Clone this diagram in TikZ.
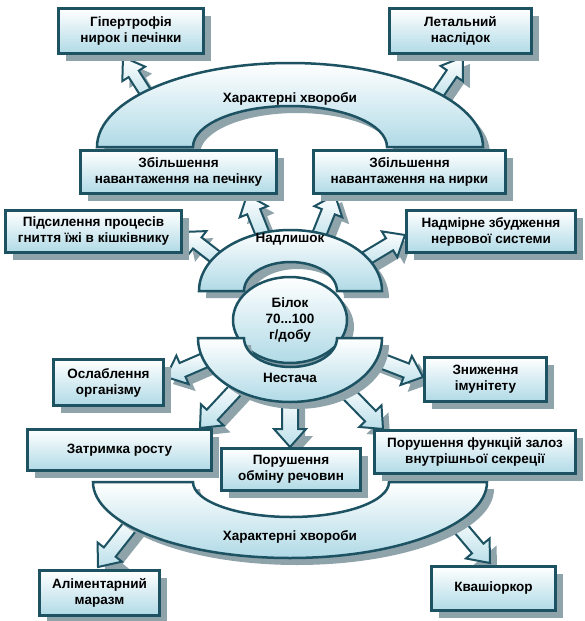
\documentclass[tikz,border=0pt]{standalone}
\usepackage{fontspec}
\setmainfont{Liberation Sans}
\usetikzlibrary{calc,shadows,shapes.geometric}
\definecolor{border}{RGB}{28,82,98}
\definecolor{fillb}{RGB}{176,218,230}
\definecolor{shadowc}{RGB}{143,163,171}
\tikzset{
 shad/.style={drop shadow={shadow xshift=7pt, shadow yshift=-7pt, fill=shadowc, opacity=1}},
 txt/.style={font=\bfseries\fontsize{13.5}{16}\selectfont, align=center},
 box/.style={draw=border, line width=3pt, top color=white, bottom color=fillb, shad, inner sep=0pt, txt},
 ring/.style={draw=border, line width=2.5pt, top color=white, bottom color=fillb, shad},
 barrowst/.style={draw=border, line width=2pt, top color=white, bottom color=fillb!85, shad, line join=miter},
}
% #1 tail, #2 tip, #3 half shaft width, #4 half head width, #5 head length
\newcommand\blockarrow[5]{%
  \coordinate (bb) at ($(#2)!#5!(#1)$);
  \path[barrowst] ($(#1)!#3!90:(#2)$) -- ($(bb)!#3!90:(#2)$) -- ($(bb)!#4!90:(#2)$) -- (#2)
     -- ($(bb)!#4!-90:(#2)$) -- ($(bb)!#3!-90:(#2)$) -- ($(#1)!#3!-90:(#2)$) -- cycle;
}
\begin{document}
\begin{tikzpicture}[x=1pt,y=1pt]
\useasboundingbox (0,0) rectangle (584,-621);

% arrow end points
\coordinate (t1) at (149,-98);  \coordinate (p1) at (123,-57);
\coordinate (t2) at (435,-98);  \coordinate (p2) at (463,-57);
\coordinate (t3) at (265,-240); \coordinate (p3) at (247,-195);
\coordinate (t4) at (317,-240); \coordinate (p4) at (335,-195);
\coordinate (t5) at (222,-262); \coordinate (p5) at (183,-232);
\coordinate (t6) at (360,-262); \coordinate (p6) at (405,-235);
\coordinate (t7) at (210,-358); \coordinate (p7) at (166,-377);
\coordinate (t8) at (374,-358); \coordinate (p8) at (423,-377);
\coordinate (t9) at (240,-385); \coordinate (p9) at (200,-428);
\coordinate (t10) at (290,-393); \coordinate (p10) at (290,-447);
\coordinate (t11) at (340,-385); \coordinate (p11) at (383,-429);
\coordinate (t12) at (135,-520); \coordinate (p12) at (98,-567);
\coordinate (t13) at (452,-518); \coordinate (p13) at (490,-563);

% block arrows
\blockarrow{t1}{p1}{6pt}{13.5pt}{20pt}
\blockarrow{t2}{p2}{6pt}{13.5pt}{20pt}
\blockarrow{t3}{p3}{7pt}{15pt}{18pt}
\blockarrow{t4}{p4}{7pt}{15pt}{18pt}
\blockarrow{t5}{p5}{7pt}{15pt}{18pt}
\blockarrow{t6}{p6}{7pt}{15pt}{18pt}
\blockarrow{t7}{p7}{7.5pt}{15.5pt}{18pt}
\blockarrow{t8}{p8}{7.5pt}{15.5pt}{18pt}
\blockarrow{t9}{p9}{7.5pt}{15.5pt}{18pt}
\blockarrow{t10}{p10}{8pt}{16pt}{18pt}
\blockarrow{t11}{p11}{7.5pt}{15.5pt}{18pt}
\blockarrow{t12}{p12}{7.5pt}{15.5pt}{19pt}
\blockarrow{t13}{p13}{7.5pt}{15.5pt}{19pt}

% top arch
\path[ring] (97,-147) arc[start angle=180,end angle=0,x radius=193,y radius=84]
  -- (387,-147) arc[start angle=0,end angle=180,x radius=97,y radius=41] -- cycle;
% bottom bowl
\path[ring] (93,-482) arc[start angle=180,end angle=360,x radius=197,y radius=76]
  -- (389,-482) arc[start angle=360,end angle=180,x radius=98,y radius=35] -- cycle;
% surplus arch
\path[ring] (199,-291) arc[start angle=180,end angle=0,x radius=91.5,y radius=61]
  -- (337,-291) arc[start angle=0,end angle=180,x radius=46.5,y radius=29] -- cycle;
% centre ellipse
\node[ring, ellipse, minimum width=114pt, minimum height=86pt, inner sep=0pt, txt] (bilok) at (290,-320) {Білок\\70...100\\г/добу};
% shortage bowl
\path[ring] (198,-338) arc[start angle=180,end angle=360,x radius=92,y radius=64]
  -- (337,-338) arc[start angle=360,end angle=180,x radius=46.5,y radius=29] -- cycle;

% labels
\node[txt] (kh1) at (290,-99) {Характерні хвороби};
\node[txt] (kh2) at (290,-537) {Характерні хвороби};
\node[txt] (nadl) at (290,-239) {Надлишок};
\node[txt] (nest) at (290,-378) {Нестача};

% boxes
\node[box, minimum width=145pt, minimum height=45pt] (gip) at (131,-31) {Гіпертрофія\\нирок і печінки};
\node[box, minimum width=142pt, minimum height=45pt] (let) at (460.5,-31) {Летальний\\наслідок};
\node[box, minimum width=196pt, minimum height=43pt] (pech) at (178.5,-172) {Збільшення\\навантаження на печінку};
\node[box, minimum width=192pt, minimum height=43pt] (nyr) at (409.5,-172) {Збільшення\\навантаження на нирки};
\node[box, minimum width=176pt, minimum height=42pt] (pids) at (93.5,-231.5) {Підсилення процесів\\гниття їжі в кішківнику};
\node[box, minimum width=169pt, minimum height=42pt] (nadm) at (491,-231.5) {Надмірне збудження\\нервової системи};
\node[box, minimum width=110pt, minimum height=46pt] (osl) at (108.5,-382.5) {Ослаблення\\організму};
\node[box, minimum width=122pt, minimum height=44pt] (zn) at (485.5,-379.5) {Зниження\\імунітету};
\node[box, minimum width=184pt, minimum height=41pt] (zatr) at (119.5,-450) {Затримка росту};
\node[box, minimum width=139pt, minimum height=42pt] (obm) at (291,-469.5) {Порушення\\обміну речовин};
\node[box, minimum width=201pt, minimum height=43pt] (zal) at (475,-452) {Порушення функцій залоз\\внутрішньої секреції};
\node[box, minimum width=120pt, minimum height=45pt] (alim) at (99.5,-593) {Аліментарний\\маразм};
\node[box, minimum width=124pt, minimum height=44pt] (kv) at (493.5,-588.5) {Квашіоркор};
\end{tikzpicture}
\end{document}
